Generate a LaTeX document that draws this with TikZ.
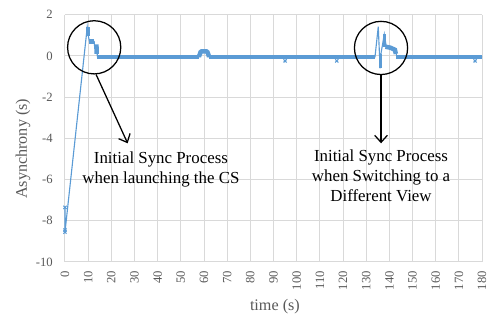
\documentclass[tikz,border=0pt]{standalone}
\usepackage{fontspec}
\setmainfont{Liberation Serif}
\usetikzlibrary{arrows.meta}
\definecolor{series}{HTML}{5B9BD5}
\definecolor{gridgray}{HTML}{D9D9D9}
\definecolor{labelgray}{HTML}{595959}

\begin{document}
\begin{tikzpicture}[x=0.05793cm,y=0.515cm,
    ring/.style={draw,circle,line width=0.9pt,minimum size=1.33cm,inner sep=0pt},
    note/.style={align=center,inner sep=0pt,font=\fontsize{12}{14.3}\selectfont},
    ticklab/.style={text=labelgray,inner sep=0pt,font=\fontsize{9}{10}\selectfont},
    axtitle/.style={text=labelgray,inner sep=0pt,font=\fontsize{11.5}{13}\selectfont},
    band/.style={series,line width=3.2pt},
    >={Straight Barb[length=5pt,width=9pt]}]
      \useasboundingbox (-28.05,-12.816) rectangle (183.86,2.718);
      \foreach \x in {0,10,...,180} \draw[gridgray,line width=0.7pt] (\x,-10) -- (\x,2);
      \foreach \y in {-10,-8,...,2} \draw[gridgray,line width=0.7pt] (0,\y) -- (180,\y);

      \foreach \x in {0,10,...,180}
        \node[ticklab,rotate=90,anchor=east] (xl\x) at ([yshift=-0.225cm]\x,-10) {\x};
      \foreach \y in {-10,-8,...,2}
        \node[ticklab,anchor=east] (yl\y) at ([xshift=-0.3cm]0,\y) {\y};
      \node[axtitle] (xt) at (90.6,-12.18) {time (s)};
      \node[axtitle,rotate=90] (yt) at (-18.1,-4.51) {Asynchrony (s)};

      \draw[series,line width=0.8pt] (0,-7.35) -- (0,-8.55) -- (9.6,1.4) -- (10.1,0.95) -- (10.6,0.7)
        -- (12.6,0.7) -- (12.8,0.45) -- (13.6,0.45) -- (14,-0.04) -- (58,-0.04) -- (58.5,0.22)
        -- (61.5,0.22) -- (62,-0.04) -- (133.8,-0.04) -- (135.2,1.42) -- (136,-0.6) -- (136.2,0)
        -- (137.8,1.05) -- (138.6,0.5) -- (142.5,0.35) -- (143.2,-0.04) -- (180,-0.04);
      \draw[band] (10,0.95) -- (10,1.4);
      \draw[band] (10.4,0.7) -- (12.6,0.7);
      \draw[band] (12.6,0.45) -- (13.6,0.45) -- (13.7,0.1);
      \draw[band] (13.7,-0.04) -- (58,-0.04);
      \draw[band,line join=round] (57.8,-0.04) -- (58.6,0.22) -- (61.4,0.22) -- (62.2,-0.04);
      \draw[band] (62,-0.04) -- (133.8,-0.04);
      \draw[series,line width=2.4pt] (136.1,-0.6) -- (136.1,0.1);
      \draw[series,line width=2.4pt] (138,0.45) -- (138,1.05);
      \draw[band] (138.3,0.45) -- (140.5,0.4) -- (142.4,0.3) -- (142.8,0.1);
      \draw[band] (142.8,-0.04) -- (180,-0.04);
      \draw[series,line width=0.8pt] plot[only marks,mark=x,mark size=1.6pt]
        coordinates {(95,-0.24) (117.3,-0.24) (177,-0.24) (0,-7.35) (0,-8.55) (0,-8.45)};

      \node[ring] (c1) at (12.6,0.42) {};
      \node[ring] (c2) at (136.4,0.39) {};
      \node[note,anchor=north] (t1) at (41.4,-4.65) {Initial Sync Process\\when launching the CS};
      \node[note,anchor=north] (t2) at (136.4,-4.53) {Initial Sync Process\\when Switching to a\\Different View};
      \coordinate (a1) at (27.05,-4.24);
      \coordinate (a2) at (136.4,-4.24);
      \draw[->,line width=0.9pt] (c1.-86) -- (a1);
      \draw[->,line width=0.9pt] (c2.south) -- (a2);
\end{tikzpicture}
\end{document}
